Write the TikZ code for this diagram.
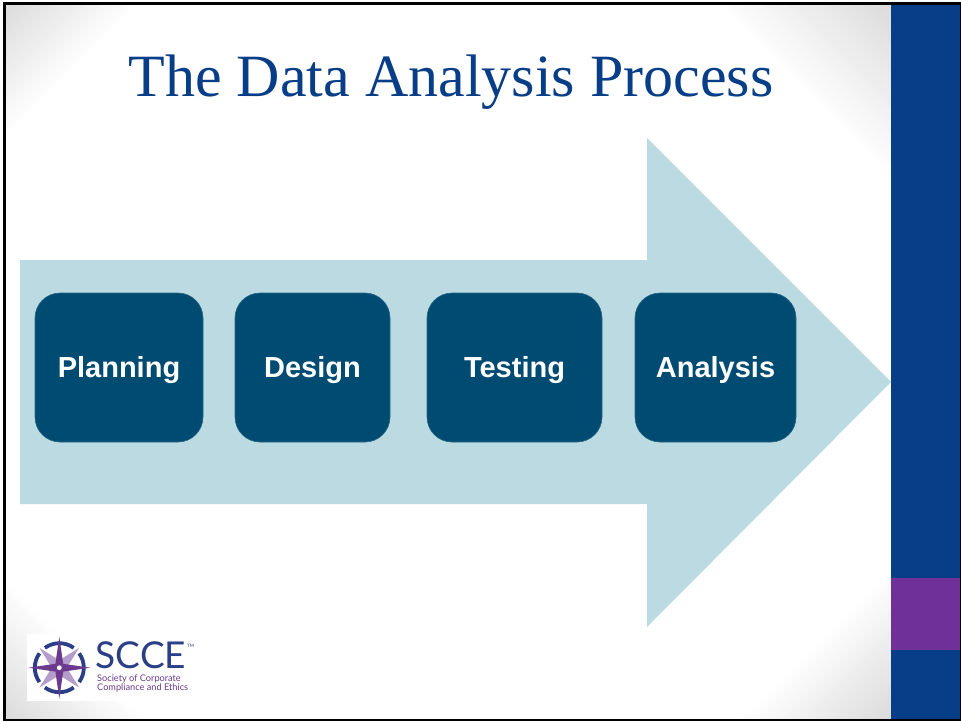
\documentclass[tikz,border=0pt]{standalone}
\usepackage{fontspec}
\usepackage{tikz}
\usepackage{xcolor}
\setmainfont{Liberation Serif}
\newfontfamily\labelfont{Liberation Sans}
\newfontfamily\logofont{Lato}
\definecolor{sideblue}{HTML}{083D87}
\definecolor{sidepurple}{HTML}{703099}
\definecolor{arrowblue}{HTML}{BBDAE2}
\definecolor{stepblue}{HTML}{004B71}
\definecolor{lightpurple}{HTML}{B49CCB}
\definecolor{logonavy}{HTML}{2A3F85}
\definecolor{logopurple}{HTML}{6B3A8E}
\tikzset{
    stepbox/.style={
        draw=stepblue!85!white, line width=0.6pt, fill=stepblue, rounded corners=25pt,
        text=white, font=\labelfont\bfseries\fontsize{29}{29}\selectfont,
        inner sep=0pt, minimum height=149pt, text height=20pt, text depth=0pt
    },
    logotext/.style={
        text=logopurple, font=\logofont\fontsize{9.2}{9.2}\selectfont, anchor=base west, inner sep=0pt
    }
}
\begin{document}
\begin{tikzpicture}[x=1pt, y=-1pt]
                            \useasboundingbox (0, 0) rectangle (961, 721);
                            % corner glow
                            \foreach \cx/\cy/\sx/\sy/\leg in {4/3/1/1/135, 891/3/-1/1/175, 4/719/1/-1/140, 891/719/-1/-1/150} {
                                \foreach \i in {1,...,30} {
                                    \pgfmathsetmacro{\k}{14*\i/30}
                                    \pgfmathsetmacro{\r}{\leg*(1-(\i-1)/30)}
                                    \fill[black!\k] (\cx, \cy) -- ++(\sx*\r, 0) -- (\cx, \cy+\sy*\r) -- cycle;
                                }
                            }
                            \fill[sideblue] (891, 3) rectangle (960, 719);
                            \fill[sidepurple] (891, 578) rectangle (960, 650);
                            \fill (3, 2) rectangle (961, 5);
                            \fill (3, 2) rectangle (6, 720.5);
                            \fill (960, 2) rectangle (961, 720.5);
                            \fill (3, 719) rectangle (961, 720.5);
                            \node[text=sideblue, font=\fontsize{60}{60}\selectfont, anchor=base, inner sep=0pt] (title) at (451, 96) {The Data Analysis Process};
                            \fill[arrowblue] (20, 260) -- (647, 260) -- (647, 138) -- (891, 382)
                                -- (647, 627) -- (647, 504) -- (20, 504) -- cycle;
                            \node[stepbox, minimum width=168pt] (planning) at (119, 367.5) {Planning};
                            \node[stepbox, minimum width=155pt] (design) at (312.5, 367.5) {Design};
                            \node[stepbox, minimum width=175pt] (testing) at (514.5, 367.5) {Testing};
                            \node[stepbox, minimum width=161pt] (analysis) at (715.5, 367.5) {Analysis};
                            % logo
                            \fill[white] (27, 634) rectangle (195, 701);
                            \begin{scope}[shift={(59.3, 667.7)}]
                                \foreach \a in {0, 90, 180, 270}
                                    \draw[logonavy, line width=3.8pt] (\a-36:24.5) arc[start angle=\a-36, end angle=\a+36, radius=24.5];
                                \foreach \a in {45, 135, 225, 315} {
                                    \fill[lightpurple] (0, 0) -- (\a+40:8) -- (\a:28) -- (\a-40:8) -- cycle;
                                }
                                \foreach \a in {0, 90, 180, 270}
                                    \fill[logopurple] (0, 0) -- (\a+45:5.5) -- (\a:31) -- (\a-45:5.5) -- cycle;
                                \fill[white] (0, 0) circle (2.4);
                            \end{scope}
                            \node[text=logonavy, font=\logofont\fontsize{37}{37}\selectfont, anchor=base west, inner sep=0pt] (scce) at (95.5, 668) {SCCE};
                            \node[text=logonavy, font=\logofont\fontsize{4.5}{4.5}\selectfont, anchor=base west, inner sep=0pt] (tm) at (187, 647) {TM};
                            \node[logotext] (society) at (97, 681) {Society of Corporate};
                            \node[logotext] (compliance) at (97, 690.3) {Compliance and Ethics};
\end{tikzpicture}
\end{document}
